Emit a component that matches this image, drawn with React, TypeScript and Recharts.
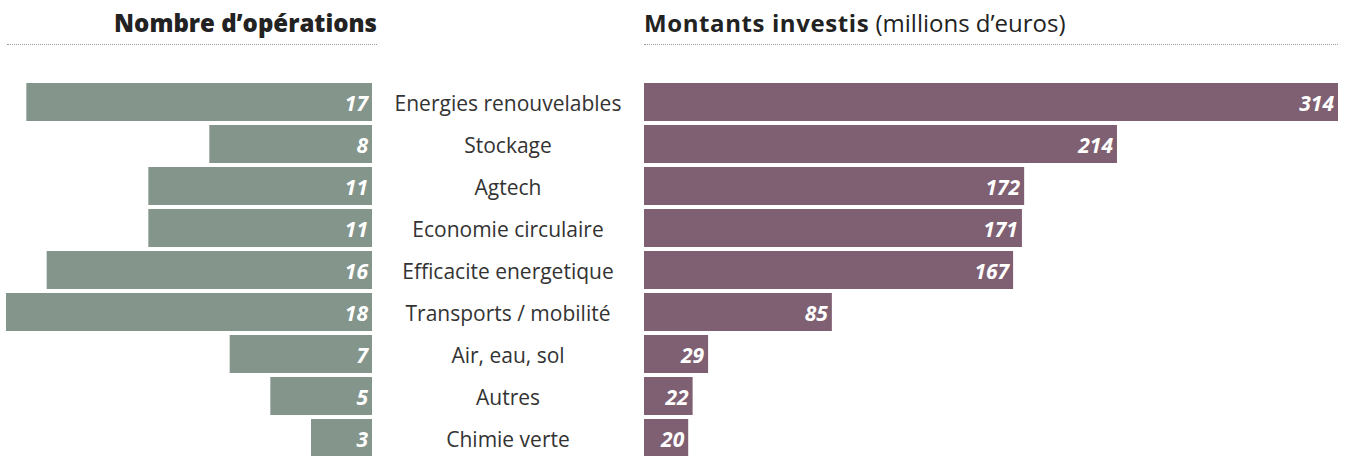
import { BarChart, Bar, XAxis, YAxis, LabelList } from 'recharts';

// Data for the charts
const categories = [
  'Energies renouvelables',
  'Stockage',
  'Agtech',
  'Economie circulaire',
  'Efficacite energetique',
  'Transports / mobilité',
  'Air, eau, sol',
  'Autres',
  'Chimie verte',
];
const operations = [17, 8, 11, 11, 16, 18, 7, 5, 3];
const montants = [314, 214, 172, 171, 167, 85, 29, 22, 20];

const GREEN = '#84958c';
const PURPLE = '#7f5f72';
const FONT = '"Open Sans", sans-serif';

const rows = categories.map((name, i) => ({
  name,
  operations: operations[i],
  montants: montants[i],
}));

const valueLabelStyle = {
  fill: '#ffffff',
  fontFamily: FONT,
  fontSize: 21,
  fontWeight: 700,
  fontStyle: 'italic' as const,
};

function CategoryTick(props: any) {
  const { x, y, payload } = props;
  return (
    <text
      x={x + 136}
      y={y}
      dy={9}
      textAnchor="middle"
      fill="#333333"
      fontFamily={FONT}
      fontSize={21}
    >
      {payload.value}
    </text>
  );
}

export default function App() {
  return (
    <div
      style={{
        position: 'absolute',
        left: 0,
        top: 0,
        width: 1346,
        height: 456,
        overflow: 'hidden',
        background: '#fff',
        fontFamily: FONT,
      }}
    >
      <div
        style={{
          position: 'absolute',
          left: 0,
          width: 377,
          top: 11,
          lineHeight: '24px',
          textAlign: 'right',
          fontSize: 24,
          fontWeight: 800,
          color: '#222',
          whiteSpace: 'nowrap',
        }}
      >
        Nombre d’opérations
      </div>
      <div
        style={{
          position: 'absolute',
          left: 7,
          width: 370,
          top: 44,
          borderTop: '1px dotted #999',
        }}
      />
      <div
        style={{
          position: 'absolute',
          left: 644,
          top: 11,
          lineHeight: '24px',
          fontSize: 24,
          color: '#222',
          whiteSpace: 'nowrap',
        }}
      >
        <span style={{ fontWeight: 700, fontSize: 24, letterSpacing: 0.6 }}>Montants investis</span>{' '}
        (millions d’euros)
      </div>
      <div
        style={{
          position: 'absolute',
          left: 644,
          width: 694,
          top: 44,
          borderTop: '1px dotted #999',
        }}
      />

      <div style={{ position: 'absolute', left: 0, top: 0 }}>
        <BarChart
          width={644}
          height={459}
          data={rows}
          layout="vertical"
          margin={{ top: 81, right: 0, left: 6, bottom: 0 }}
        >
          <XAxis type="number" domain={[0, 18]} reversed hide />
          <YAxis
            type="category"
            dataKey="name"
            orientation="right"
            width={272}
            axisLine={false}
            tickLine={false}
            tickSize={0}
            tickMargin={0}
            interval={0}
            tick={<CategoryTick />}
          />
          <Bar dataKey="operations" fill={GREEN} barSize={38} isAnimationActive={false}>
            <LabelList dataKey="operations" position="insideLeft" offset={4} dy={2} style={valueLabelStyle} />
          </Bar>
        </BarChart>
      </div>

      <div style={{ position: 'absolute', left: 644, top: 0 }}>
        <BarChart
          width={702}
          height={459}
          data={rows}
          layout="vertical"
          margin={{ top: 81, right: 8, left: 0, bottom: 0 }}
        >
          <XAxis type="number" domain={[0, 314]} hide />
          <YAxis type="category" dataKey="name" hide />
          <Bar dataKey="montants" fill={PURPLE} barSize={38} isAnimationActive={false}>
            <LabelList dataKey="montants" position="insideRight" offset={4} dy={2} style={valueLabelStyle} />
          </Bar>
        </BarChart>
      </div>
    </div>
  );
}
